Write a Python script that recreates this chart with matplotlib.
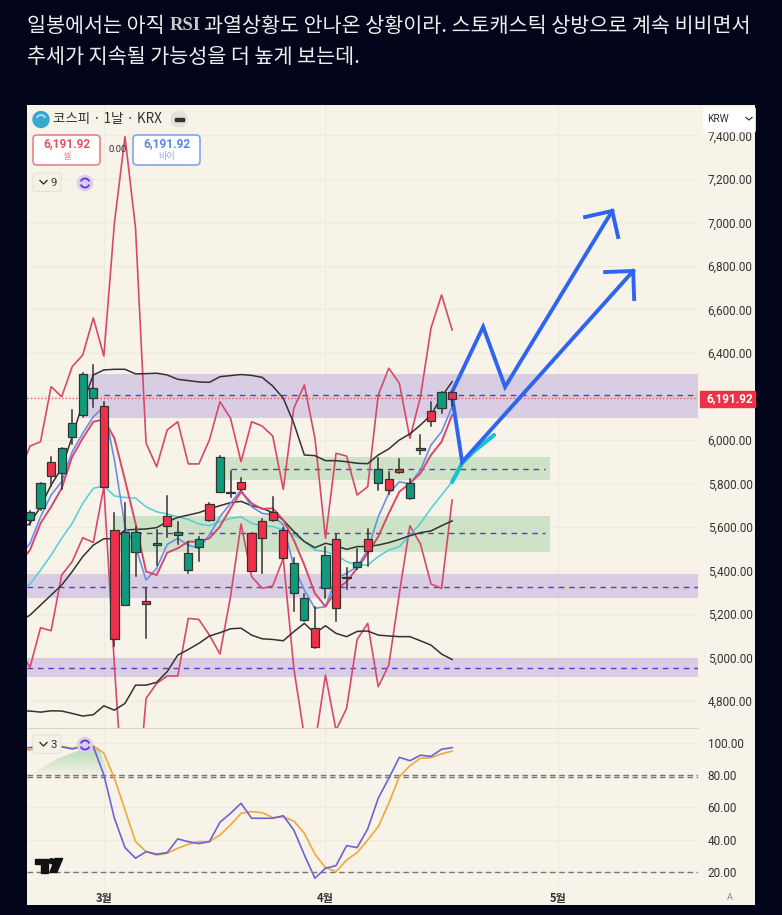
import numpy as np
import matplotlib
matplotlib.use('Agg')
import matplotlib.pyplot as plt
from matplotlib.patches import FancyBboxPatch, Rectangle, Circle, Polygon, Arc

plt.rcParams['font.family'] = ['Noto Sans CJK KR', 'DejaVu Sans']

# 캔들 데이터
opens = [5632, 5689, 5897, 5847, 6015, 6115, 6192, 6158, 5586, 5241, 5483, 5258, 5516, 5651, 5562, 5402, 5506, 5704, 5762, 5756, 5808,
         5574, 5629, 5670, 5586, 5295, 5172, 5134, 5321, 5543, 5369, 5415, 5543, 5801, 5819, 5867, 5732, 5953, 6135, 6146, 6222]
highs = [5672, 5804, 5923, 5962, 6138, 6307, 6345, 6176, 5663, 5709, 5601, 5318, 5586, 5743, 5621, 5532, 5555, 5709, 5928, 5857, 5827,
         5574, 5635, 5739, 5594, 5456, 5290, 5234, 5506, 5568, 5413, 5497, 5589, 5916, 5854, 5913, 5821, 6023, 6176, 6222, 6222]
lows = [5609, 5678, 5789, 5773, 5982, 6104, 6153, 5785, 5053, 5241, 5376, 5091, 5425, 5556, 5522, 5390, 5445, 5628, 5759, 5736, 5770,
        5399, 5390, 5629, 5451, 5215, 5169, 5042, 5272, 5169, 5313, 5405, 5421, 5770, 5752, 5847, 5727, 5934, 6064, 6123, 6156]
closes = [5670, 5801, 5836, 5962, 6077, 6304, 6238, 5785, 5083, 5579, 5579, 5244, 5528, 5605, 5579, 5479, 5543, 5632, 5920, 5759, 5773,
          5399, 5548, 5634, 5456, 5433, 5272, 5047, 5471, 5226, 5365, 5441, 5488, 5865, 5770, 5851, 5801, 5962, 6086, 6222, 6187]

# 보조지표 (첫 값은 왼쪽 가장자리 밖의 봉)
line_x = list(range(-1, 41))
env_upper = [5847, 5972, 5992, 6245, 6199, 6337, 6391, 6561, 6386, 6998, 7394, 6975, 5985, 5877, 6046, 6084, 5890, 5890, 6000, 6176, 6100,
             5900, 6084, 6064, 6018, 5773, 6146, 6253, 6008, 5548, 5939, 5926, 5747, 5785, 6207, 6330, 6261, 6008, 6199, 6515, 6667, 6506]
env_lower = [5034, 4955, 5137, 5123, 5379, 5441, 5551, 5529, 5785, 4962, 4222, 4243, 4812, 4881, 4915, 4915, 5180, 5175, 5103, 5016, 5280,
             5614, 5372, 5318, 5329, 5456, 4950, 4636, 4602, 4919, 4666, 4766, 5083, 5157, 4866, 4965, 5295, 5606, 5522, 5338, 5318, 5724]
bb_upper = [5586, 5617, 5693, 5793, 5870, 6015, 6169, 6299, 6322, 6325, 6325, 6304, 6305, 6307, 6299, 6279, 6273, 6267, 6265, 6291, 6296,
            6301, 6297, 6288, 6248, 6192, 6077, 5931, 5928, 5905, 5905, 5900, 5893, 5891, 5931, 5959, 6000, 6028, 6069, 6115, 6199, 6268]
bb_mid = [5165, 5195, 5241, 5287, 5333, 5395, 5464, 5517, 5546, 5546, 5586, 5589, 5591, 5597, 5624, 5644, 5655, 5666, 5683, 5698, 5712,
          5718, 5698, 5686, 5666, 5632, 5579, 5533, 5505, 5525, 5514, 5497, 5510, 5510, 5517, 5528, 5543, 5560, 5574, 5582, 5606, 5628]
bb_lower = [4755, 4754, 4749, 4755, 4754, 4743, 4731, 4737, 4778, 4758, 4789, 4873, 4873, 4886, 4935, 5011, 5037, 5065, 5099, 5114, 5132,
            5135, 5103, 5086, 5083, 5077, 5119, 5157, 5111, 5146, 5111, 5096, 5120, 5122, 5103, 5099, 5096, 5096, 5077, 5057, 5016, 4991]
ma_red = [5433, 5494, 5617, 5693, 5778, 5923, 6008, 6084, 6095, 6008, 5816, 5617, 5395, 5379, 5482, 5502, 5533, 5533, 5548, 5602, 5686,
          5762, 5709, 5683, 5686, 5632, 5540, 5425, 5295, 5234, 5310, 5349, 5410, 5479, 5556, 5663, 5762, 5801, 5847, 5931, 5992, 6115]
ma_blue = [5464, 5525, 5647, 5747, 5808, 5946, 6031, 6107, 6153, 5908, 5602, 5510, 5356, 5410, 5520, 5548, 5517, 5502, 5563, 5647, 5709,
           5770, 5693, 5663, 5655, 5609, 5418, 5310, 5226, 5234, 5364, 5387, 5418, 5494, 5647, 5755, 5808, 5798, 5862, 5977, 6038, 6153]
ma_cyan = [5303, 5338, 5402, 5471, 5548, 5617, 5709, 5778, 5789, 5743, 5736, 5733, 5693, 5670, 5660, 5647, 5635, 5614, 5606, 5624, 5640,
           5647, 5617, 5605, 5602, 5586, 5563, 5533, 5494, 5487, 5471, 5441, 5425, 5425, 5464, 5494, 5510, 5563, 5617, 5686, 5747, 5808]

# 스토캐스틱
stoch_k = [97.0, 97.1, 98.8, 98.8, 97.7, 96.3, 97.7, 97.7, 80.2, 53.3, 35.1, 28.5, 32.6, 31.0, 32.0, 40.5, 38.8, 37.6, 38.8, 50.8, 56.4,
           62.6, 53.3, 53.3, 53.3, 54.9, 46.0, 30.5, 16.1, 22.3, 23.9, 36.3, 35.1, 46.7, 65.7, 78.1, 91.1, 89.0, 92.4, 91.7, 96.1, 97.1]
stoch_d = [95.0, 95.7, 98.3, 98.8, 97.7, 96.7, 98.3, 98.3, 93.6, 78.1, 58.4, 38.8, 32.6, 30.5, 31.6, 34.7, 37.2, 38.8, 38.8, 42.9, 49.1,
           56.4, 57.4, 56.8, 53.7, 54.1, 51.6, 44.0, 31.0, 22.7, 20.2, 27.4, 32.0, 39.8, 48.1, 62.6, 79.1, 85.9, 90.5, 90.9, 93.2, 95.0]

# 가격 구간: (위, 아래, 점선, 시작 봉, 끝 봉)
purple_zones = [(6304, 6103, 6205, 5, 63.3), (5384, 5275, 5326, -0.3, 63.3), (4996, 4912, 4951, -0.3, 63.3)]
green_zones = [(5923, 5816, 5868, 18, 49.3), (5650, 5487, 5571, 8, 49.3)]
last_price = 6191.92

price_ticks = [4800, 5000, 5200, 5400, 5600, 5800, 6000, 6200, 6400, 6600, 6800, 7000, 7200, 7400]
stoch_ticks = [20, 40, 60, 80, 100]
month_pos = [7, 28, 50]
month_labels = ['3월', '4월', '5월']

# 손으로 그린 화살표 (봉 번호, 가격)
arrow1_x = [40, 42.94, 45.02, 55.17]
arrow1_y = [6221, 6520, 6244, 7053]
arrow1_head_x = [52.6, 55.17, 55.73]
arrow1_head_y = [7025, 7053, 6933]
arrow2_x = [40, 40.95, 57.16]
arrow2_y = [6198, 5899, 6777]
arrow2_head_x = [54.5, 57.16, 57.25]
arrow2_head_y = [6772, 6777, 6648]
brush_x = [40, 40.95, 41.99, 43.98]
brush_y = [5807, 5894, 5945, 6023]

W, H = 782, 915
BG = '#02041a'
PANEL = '#f7f3e8'
GRID = '#eeeadd'
RED = '#f0304a'
TEAL = '#109a7c'
CRIMSON = '#d8486c'


def axes_px(x0, y0, x1, y1):
    return [x0 / W, 1 - y1 / H, (x1 - x0) / W, (y1 - y0) / H]


fig = plt.figure(figsize=(W / 100, H / 100), dpi=100, facecolor=BG)

# 차트 전체 배경
bg = fig.add_axes(axes_px(27, 105, 755, 905), facecolor=PANEL, zorder=-1)
bg.set_xticks([])
bg.set_yticks([])
for s in bg.spines.values():
    s.set_visible(False)

# 가격 차트
ax = fig.add_axes(axes_px(27, 105, 698, 728))
ax.set_facecolor('none')
ax.set_xlim(-0.284, 63.3)
ax.set_ylim(4676, 7540)
for s in ax.spines.values():
    s.set_visible(False)
ax.yaxis.tick_right()
ax.set_yticks(price_ticks)
# 6,200 은 현재가 라벨에 가려짐
ax.set_yticklabels(['' if p == 6200 else f'{p:,.2f}' for p in price_ticks], family='Roboto', fontsize=8.5, color='#333333')
ax.tick_params(axis='y', length=0, pad=6.9)
ax.set_xticks(month_pos)
ax.tick_params(axis='x', length=0, labelbottom=False)
ax.grid(color=GRID, lw=0.8)
ax.set_axisbelow(True)

for top, bottom, mid, start, end in purple_zones:
    ax.fill_between([start, end], bottom, top, color='#c6b4e0', alpha=0.6, lw=0, zorder=1)
    ax.plot([max(start, 7) if start > 0 else start, end], [mid, mid], color='#5a3cc8', lw=1, dashes=(4, 3.5), zorder=2)
for top, bottom, mid, start, end in green_zones:
    ax.fill_between([start, end], bottom, top, color='#bcdcb8', alpha=0.7, lw=0, zorder=1)
    ax.plot([start + 1 if start > 10 else start + 2, end - 0.5], [mid, mid], color='#5a3cc8', lw=1, dashes=(4, 3.5), zorder=2)
ax.axhline(last_price, color='#f2525f', lw=1, ls=(0, (1, 1.5)), zorder=2)

ax.plot(line_x, env_upper, color=CRIMSON, lw=1.2, zorder=3)
ax.plot(line_x, env_lower, color=CRIMSON, lw=1.2, zorder=3)
ax.plot(line_x, ma_cyan, color='#4fcfd2', lw=1.1, zorder=3)
ax.plot(line_x, bb_upper, color='#333333', lw=1.1, zorder=3)
ax.plot(line_x, bb_mid, color='#333333', lw=1.1, zorder=3)
ax.plot(line_x, bb_lower, color='#333333', lw=1.1, zorder=3)
ax.plot(line_x, ma_blue, color='#6b8fe8', lw=1.2, zorder=3)
ax.plot(line_x, ma_red, color=CRIMSON, lw=1.4, zorder=3)

ax.plot(brush_x, brush_y, color='#14c4cf', lw=3, solid_capstyle='round', zorder=4)
ax.plot(arrow1_x, arrow1_y, color='#2f65ee', lw=2.8, solid_joinstyle='miter', zorder=5)
ax.plot(arrow1_head_x, arrow1_head_y, color='#2f65ee', lw=2.8, solid_joinstyle='miter', zorder=5)
ax.plot(arrow2_x, arrow2_y, color='#2f65ee', lw=2.8, solid_joinstyle='miter', zorder=5)
ax.plot(arrow2_head_x, arrow2_head_y, color='#2f65ee', lw=2.8, solid_joinstyle='miter', zorder=5)

for i in range(len(opens)):
    col = RED if closes[i] < opens[i] else TEAL
    ax.plot([i, i], [lows[i], highs[i]], color='#333333', lw=1.1, zorder=6)
    ax.bar(i, abs(closes[i] - opens[i]), bottom=min(opens[i], closes[i]), width=0.78, color=col,
           edgecolor='#333333', linewidth=0.9, zorder=7)

# 스토캐스틱 패널
ax2 = fig.add_axes(axes_px(27, 728, 698, 885))
ax2.set_facecolor('none')
ax2.set_xlim(-0.284, 63.3)
ax2.set_ylim(11.9, 109.3)
for s in ax2.spines.values():
    s.set_visible(False)
ax2.spines['top'].set_visible(True)
ax2.spines['top'].set_color('#d8d5cb')
ax2.spines['top'].set_linewidth(0.8)
ax2.yaxis.tick_right()
ax2.set_yticks(stoch_ticks)
ax2.set_yticklabels([f'{v:.2f}' for v in stoch_ticks], family='Roboto', fontsize=8.5, color='#333333')
ax2.tick_params(axis='y', length=0, pad=6.9)
ax2.set_xticks(month_pos)
ax2.set_xticklabels(month_labels, fontsize=8, color='#333333', fontweight='bold')
ax2.tick_params(axis='x', length=0, pad=5)
ax2.grid(color=GRID, lw=0.8)
ax2.set_axisbelow(True)

# 왼쪽 위 녹색 그라데이션
grad = np.zeros((64, 1, 4))
grad[:, :, 0] = 0.55
grad[:, :, 1] = 0.80
grad[:, :, 2] = 0.58
grad[:, 0, 3] = np.linspace(0.65, 0, 64)
img = ax2.imshow(grad, extent=[-0.3, 8, 79, 98], aspect='auto', zorder=1)
img.set_clip_path(Polygon([(-0.3, 79), (2.5, 90), (5.5, 97.5), (6.5, 97), (7.6, 79)], transform=ax2.transData))
ax2.set_xlim(-0.284, 63.3)
ax2.set_ylim(11.9, 109.3)

for level in [80.4, 78.7, 20]:
    ax2.axhline(level, color='#777777', lw=1, dashes=(4, 2.6), zorder=2)
ax2.plot(line_x, stoch_d, color='#f2a73c', lw=1.2, zorder=3)
ax2.plot(line_x, stoch_k, color='#6a63d8', lw=1.2, zorder=4)

# 위젯은 픽셀 좌표 오버레이로
ov = fig.add_axes([0, 0, 1, 1], facecolor='none')
ov.set_xlim(0, W)
ov.set_ylim(H, 0)
ov.axis('off')


def button(x0, y0, x1, y1, edge, face='white', lw=1.2, r=4):
    ov.add_patch(FancyBboxPatch((x0 + r, y0 + r), x1 - x0 - 2 * r, y1 - y0 - 2 * r,
                                boxstyle=f'round,pad={r},rounding_size={r}', fc=face, ec=edge, lw=lw))


# 범례 줄
ov.add_patch(Circle((41, 119.5), 8, color='#35a9cf'))
ov.add_patch(Arc((41, 119.5), 9, 9, theta1=200, theta2=340, color='#d8eef5', lw=1))
ov.text(53, 119.5, '코스피 · 1날 · KRX', fontsize=9.7, color='#333333', va='center')
ov.add_patch(Circle((179, 119), 8, color='#e4e1d8'))
ov.add_patch(Rectangle((174.5, 117.5), 9, 3, color='#333333'))

button(33, 135, 100, 165, '#e8808a')
ov.text(66.5, 144, '6,191.92', family='Roboto', fontsize=8.6, fontweight='bold', color='#e8525f', ha='center', va='center')
ov.text(66.5, 157, '셀', fontsize=6.6, color='#ee8a92', ha='center', va='center')
button(133, 135, 200, 165, '#7ea6ee')
ov.text(166.5, 144, '6,191.92', family='Roboto', fontsize=8.6, fontweight='bold', color='#5a86e6', ha='center', va='center')
ov.text(166.5, 157, '바이', fontsize=6.6, color='#8fb0ee', ha='center', va='center')
ov.text(118, 150, '0.00', family='Roboto', fontsize=6.8, color='#333333', ha='center', va='center')

for y0, label in [(173, '9'), (735, '3')]:
    button(33, y0, 61, y0 + 18.5, '#e6e3d9', face='#f5f1e6', lw=0.8, r=2)
    ov.plot([40, 43.5, 47], [y0 + 7.5, y0 + 11, y0 + 7.5], color='#333333', lw=1)
    ov.text(54, y0 + 9.5, label, family='Roboto', fontsize=8.2, color='#333333', ha='center', va='center')
    ov.add_patch(Circle((85, y0 + 10), 7.5, color='#d9d0ee'))
    ov.add_patch(Arc((85, y0 + 10), 9, 9, theta1=20, theta2=160, color='#6a3de8', lw=1.4))
    ov.add_patch(Arc((85, y0 + 10), 9, 9, theta1=200, theta2=340, color='#6a3de8', lw=1.4))

# TradingView 로고
ov.add_patch(Polygon([(35, 858.5), (47.5, 858.5), (47.5, 872.5), (40.5, 872.5), (40.5, 864), (35, 864)], color='#111111'))
ov.add_patch(Circle((51.5, 861.2), 2.5, color='#111111'))
ov.add_patch(Polygon([(55, 858.5), (62.7, 858.5), (56.7, 872.5), (50, 872.5)], color='#111111'))

# 오른쪽 가격축 요소
button(704, 108, 755, 131.5, 'white', r=1)
ov.text(707, 118.5, 'KRW', family='Roboto', fontsize=7.4, color='#333333', va='center')
ov.plot([746, 749, 752], [117.5, 120, 117.5], color='#333333', lw=0.9)
ov.add_patch(Rectangle((700, 391), 55, 16, color='#ee3048'))
ov.text(729.5, 399, '6,191.92', family='Roboto', fontsize=8.5, fontweight='bold', color='white', ha='center', va='center')
ov.text(730, 898, 'A', family='Roboto', fontsize=6.5, color='#888888', ha='center', va='center')

# 상단 문장
ov.text(27, 26, '일봉에서는 아직', fontsize=14.85, color='#eeeeee', va='center', fontweight='light')
ov.text(170, 26, 'RSI', family='Liberation Serif', fontsize=13.5, color='#c8c8cc', va='center', fontweight='bold')
ov.text(204, 26, '과열상황도 안나온 상황이라. 스토캐스틱 상방으로 계속 비비면서', fontsize=14.85, color='#eeeeee', va='center', fontweight='light')
ov.text(27, 57, '추세가 지속될 가능성을 더 높게 보는데.', fontsize=14.9, color='#eeeeee', va='center', fontweight='light')

fig.savefig('out.png', dpi=100, facecolor=BG)
